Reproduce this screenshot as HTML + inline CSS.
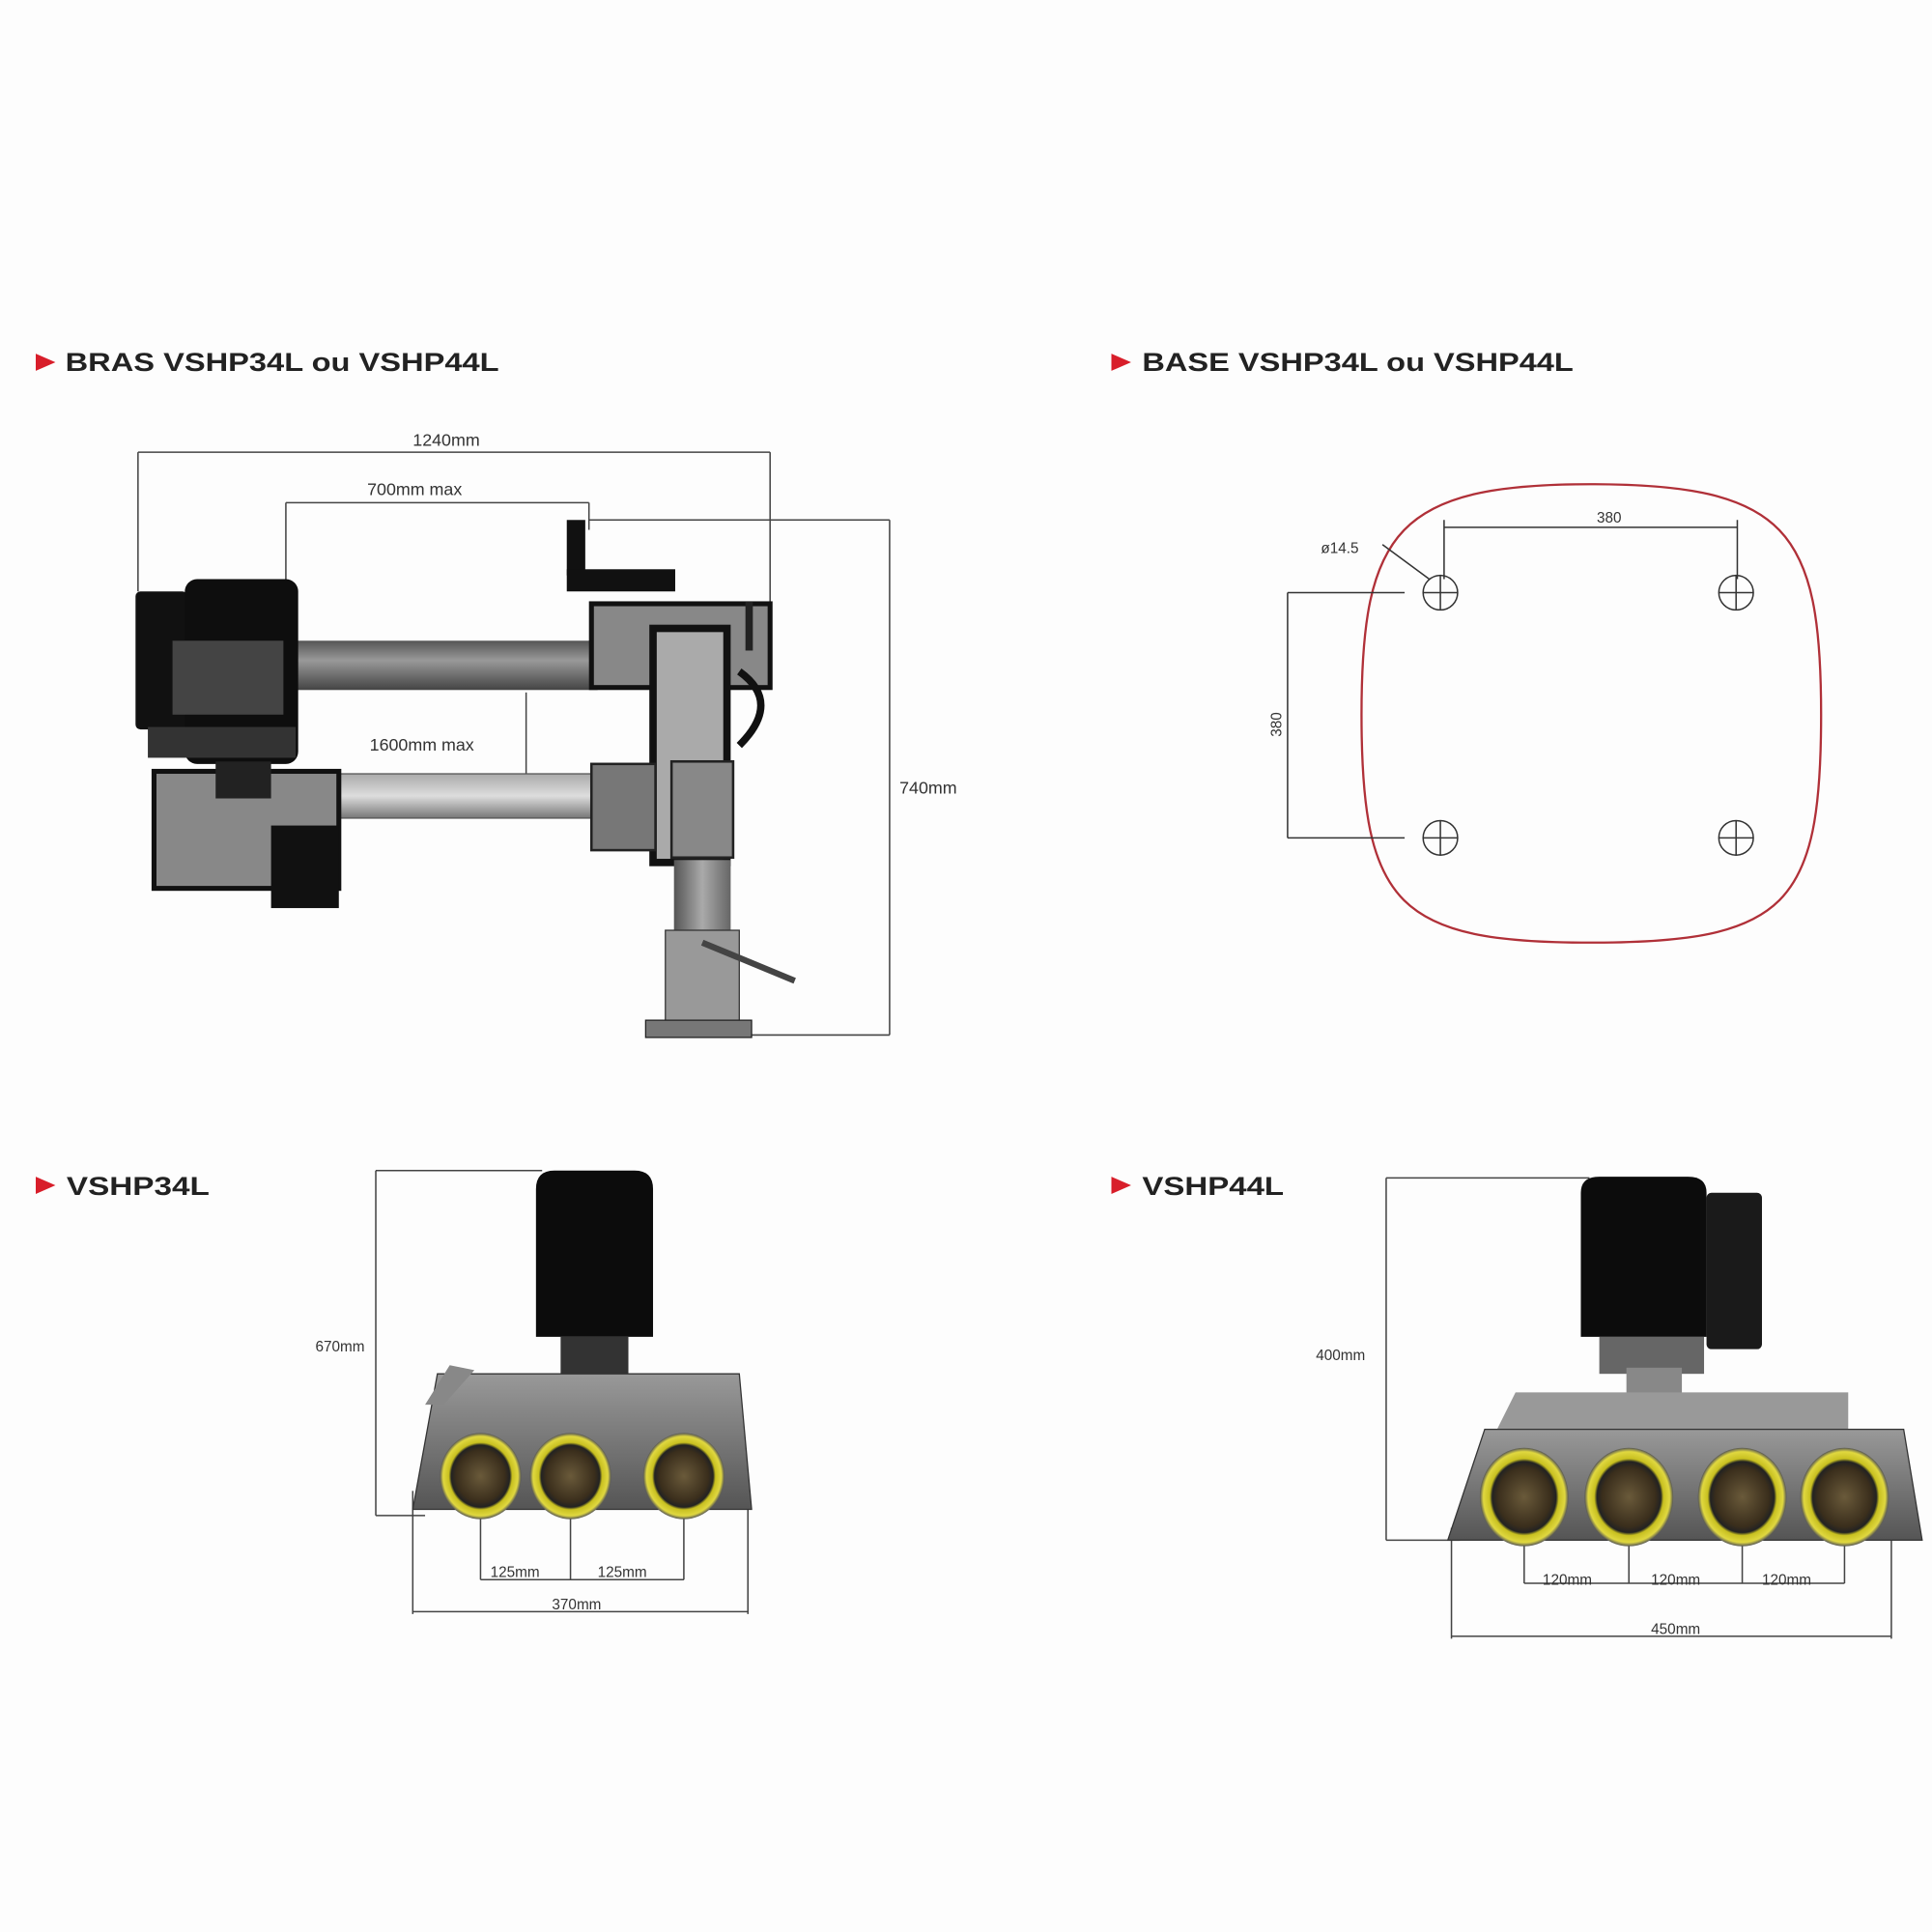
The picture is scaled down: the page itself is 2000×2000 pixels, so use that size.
<!DOCTYPE html>
<html><head><meta charset="utf-8"><style>
html,body{margin:0;padding:0;background:#fdfdfd;}
svg{display:block}
text{font-family:"Liberation Sans",sans-serif;}
</style></head><body>
<svg width="2000" height="2000" viewBox="0 0 1568 1568" xmlns="http://www.w3.org/2000/svg">
<defs>
<linearGradient id="tube" x1="0" y1="0" x2="0" y2="1"><stop offset="0" stop-color="#555"/><stop offset="0.4" stop-color="#999"/><stop offset="1" stop-color="#444"/></linearGradient>
<linearGradient id="tube2" x1="0" y1="0" x2="0" y2="1"><stop offset="0" stop-color="#aaa"/><stop offset="0.5" stop-color="#ddd"/><stop offset="1" stop-color="#777"/></linearGradient>
<linearGradient id="col" x1="0" y1="0" x2="1" y2="0"><stop offset="0" stop-color="#555"/><stop offset="0.5" stop-color="#aaa"/><stop offset="1" stop-color="#666"/></linearGradient>
<linearGradient id="body" x1="0" y1="0" x2="0" y2="1"><stop offset="0" stop-color="#999"/><stop offset="1" stop-color="#555"/></linearGradient>
<radialGradient id="whl"><stop offset="0" stop-color="#6a5a3a"/><stop offset="0.6" stop-color="#3a2e1c"/><stop offset="0.72" stop-color="#222"/><stop offset="0.78" stop-color="#c8c020"/><stop offset="0.92" stop-color="#e0d840"/><stop offset="1" stop-color="#555"/></radialGradient>
</defs>
<rect width="1568" height="1568" fill="#fdfdfd"/>
<g fill="#d81e2a"><path d="M29 287 L45 294 L29 301Z"/><path d="M902 287 L918 294 L902 301Z"/><path d="M29 955 L45 962 L29 969Z"/><path d="M902 955 L918 962 L902 969Z"/></g>
<g font-size="21" fill="#222" font-weight="bold">
<text x="53" y="301" textLength="352" lengthAdjust="spacingAndGlyphs">BRAS VSHP34L ou VSHP44L</text>
<text x="927" y="301" textLength="350" lengthAdjust="spacingAndGlyphs">BASE VSHP34L ou VSHP44L</text>
<text x="54" y="970" textLength="116" lengthAdjust="spacingAndGlyphs">VSHP34L</text>
<text x="927" y="970" textLength="115" lengthAdjust="spacingAndGlyphs">VSHP44L</text>
</g>
<g stroke="#444" stroke-width="1.2" fill="none">
<path d="M112 367H625M112 367V480M625 367V520"/>
<path d="M232 408H478M232 408V475M478 408V430"/>
<path d="M478 422H722M722 422V840M525 840H722"/>
<path d="M427 562V660"/>
</g>
<g font-size="14" fill="#333" font-family="Liberation Serif">
<text x="335" y="362">1240mm</text>
<text x="298" y="402">700mm max</text>
<text x="300" y="609">1600mm max</text>
<text x="730" y="644">740mm</text>
</g>
<rect x="232" y="520" width="253" height="40" fill="url(#tube)"/>
<rect x="270" y="628" width="215" height="36" fill="url(#tube2)" stroke="#555"/>
<rect x="110" y="480" width="42" height="112" fill="#111" rx="4"/>
<rect x="150" y="470" width="92" height="150" fill="#0e0e0e" rx="10"/>
<rect x="140" y="520" width="90" height="60" fill="#444"/>
<rect x="120" y="590" width="120" height="25" fill="#333"/>
<rect x="125" y="626" width="150" height="95" fill="#888" stroke="#111" stroke-width="4"/>
<rect x="220" y="670" width="55" height="67" fill="#111"/>
<rect x="175" y="618" width="45" height="30" fill="#222"/>
<rect x="460" y="422" width="15" height="45" fill="#111"/>
<rect x="460" y="462" width="88" height="18" fill="#111"/>
<rect x="480" y="490" width="145" height="68" fill="#888" stroke="#111" stroke-width="4"/>
<rect x="530" y="510" width="60" height="190" fill="#aaa" stroke="#111" stroke-width="6"/>
<rect x="480" y="620" width="52" height="70" fill="#777" stroke="#222" stroke-width="2"/>
<rect x="545" y="618" width="50" height="78" fill="#888" stroke="#222" stroke-width="2"/>
<rect x="547" y="698" width="46" height="130" fill="url(#col)"/>
<rect x="540" y="755" width="60" height="75" fill="#999" stroke="#333"/>
<path d="M570 765 L645 796" stroke="#444" stroke-width="5"/>
<rect x="524" y="828" width="86" height="14" fill="#777" stroke="#222"/>
<path d="M600 545 Q635 570 600 605" stroke="#111" stroke-width="6" fill="none"/>
<rect x="605" y="488" width="6" height="40" fill="#222"/>
<path d="M1291 393 C1450 393 1478 430 1478 580 C1478 735 1450 765 1291 765 C1135 765 1105 735 1105 580 C1105 430 1135 393 1291 393Z" fill="none" stroke="#b03038" stroke-width="1.8"/>
<g stroke="#333" stroke-width="1.2" fill="none">
<circle cx="1169" cy="481" r="14"/><circle cx="1409" cy="481" r="14"/><circle cx="1169" cy="680" r="14"/><circle cx="1409" cy="680" r="14"/>
<path d="M1155 481h28M1169 467v28M1395 481h28M1409 467v28M1155 680h28M1169 666v28M1395 680h28M1409 666v28"/>
<path d="M1172 428H1410M1172 422V470M1410 422V470"/>
<path d="M1045 481V680M1045 481H1140M1045 680H1140"/>
<path d="M1122 442L1160 470"/>
</g>
<g font-size="12" fill="#333" font-family="Liberation Serif">
<text x="1296" y="424">380</text>
<text x="1072" y="449">ø14.5</text>
<text transform="translate(1040 598) rotate(-90)">380</text>
</g>
<g stroke="#444" stroke-width="1.2" fill="none">
<path d="M305 950V1230M305 950H440M305 1230H345"/>
<path d="M390 1230V1282M463 1230V1282M555 1230V1282M390 1282H555"/>
<path d="M335 1210V1310M607 1210V1310M335 1308H607"/>
</g>
<path d="M435 965 Q435 950 450 950 L515 950 Q530 950 530 965 L530 1085 L435 1085Z" fill="#0c0c0c"/>
<rect x="455" y="1085" width="55" height="35" fill="#333"/>
<path d="M355 1115 L600 1115 L610 1225 L335 1225 Z" fill="url(#body)" stroke="#333"/>
<path d="M345 1140 L365 1108 L385 1112 L360 1140Z" fill="#888"/>
<g><ellipse cx="390" cy="1198" rx="33" ry="35" fill="url(#whl)"/><ellipse cx="463" cy="1198" rx="33" ry="35" fill="url(#whl)"/><ellipse cx="555" cy="1198" rx="33" ry="35" fill="url(#whl)"/></g>
<g font-size="12" fill="#333" font-family="Liberation Serif">
<text x="256" y="1097">670mm</text><text x="398" y="1280">125mm</text><text x="485" y="1280">125mm</text><text x="448" y="1306">370mm</text>
</g>
<g stroke="#444" stroke-width="1.2" fill="none">
<path d="M1125 956V1250M1125 956H1290M1125 1250H1185"/>
<path d="M1237 1250V1285M1322 1250V1285M1414 1250V1285M1497 1250V1285M1237 1285H1497"/>
<path d="M1178 1240V1330M1535 1240V1330M1178 1328H1535"/>
</g>
<path d="M1283 968 Q1283 955 1298 955 L1370 955 Q1385 955 1385 968 L1385 1085 L1283 1085Z" fill="#0c0c0c"/>
<rect x="1385" y="968" width="45" height="127" fill="#1a1a1a" rx="4"/>
<rect x="1298" y="1085" width="85" height="30" fill="#666"/>
<rect x="1320" y="1110" width="45" height="45" fill="#888"/>
<path d="M1230 1130 L1500 1130 L1500 1160 L1215 1160Z" fill="#999"/>
<path d="M1205 1160 L1545 1160 L1560 1250 L1175 1250 Z" fill="url(#body)" stroke="#333"/>
<g><ellipse cx="1237" cy="1215" rx="36" ry="40" fill="url(#whl)"/><ellipse cx="1322" cy="1215" rx="36" ry="40" fill="url(#whl)"/><ellipse cx="1414" cy="1215" rx="36" ry="40" fill="url(#whl)"/><ellipse cx="1497" cy="1215" rx="36" ry="40" fill="url(#whl)"/></g>
<g font-size="12" fill="#333" font-family="Liberation Serif">
<text x="1068" y="1104">400mm</text><text x="1252" y="1286">120mm</text><text x="1340" y="1286">120mm</text><text x="1430" y="1286">120mm</text><text x="1340" y="1326">450mm</text>
</g>
</svg>
</body></html>
